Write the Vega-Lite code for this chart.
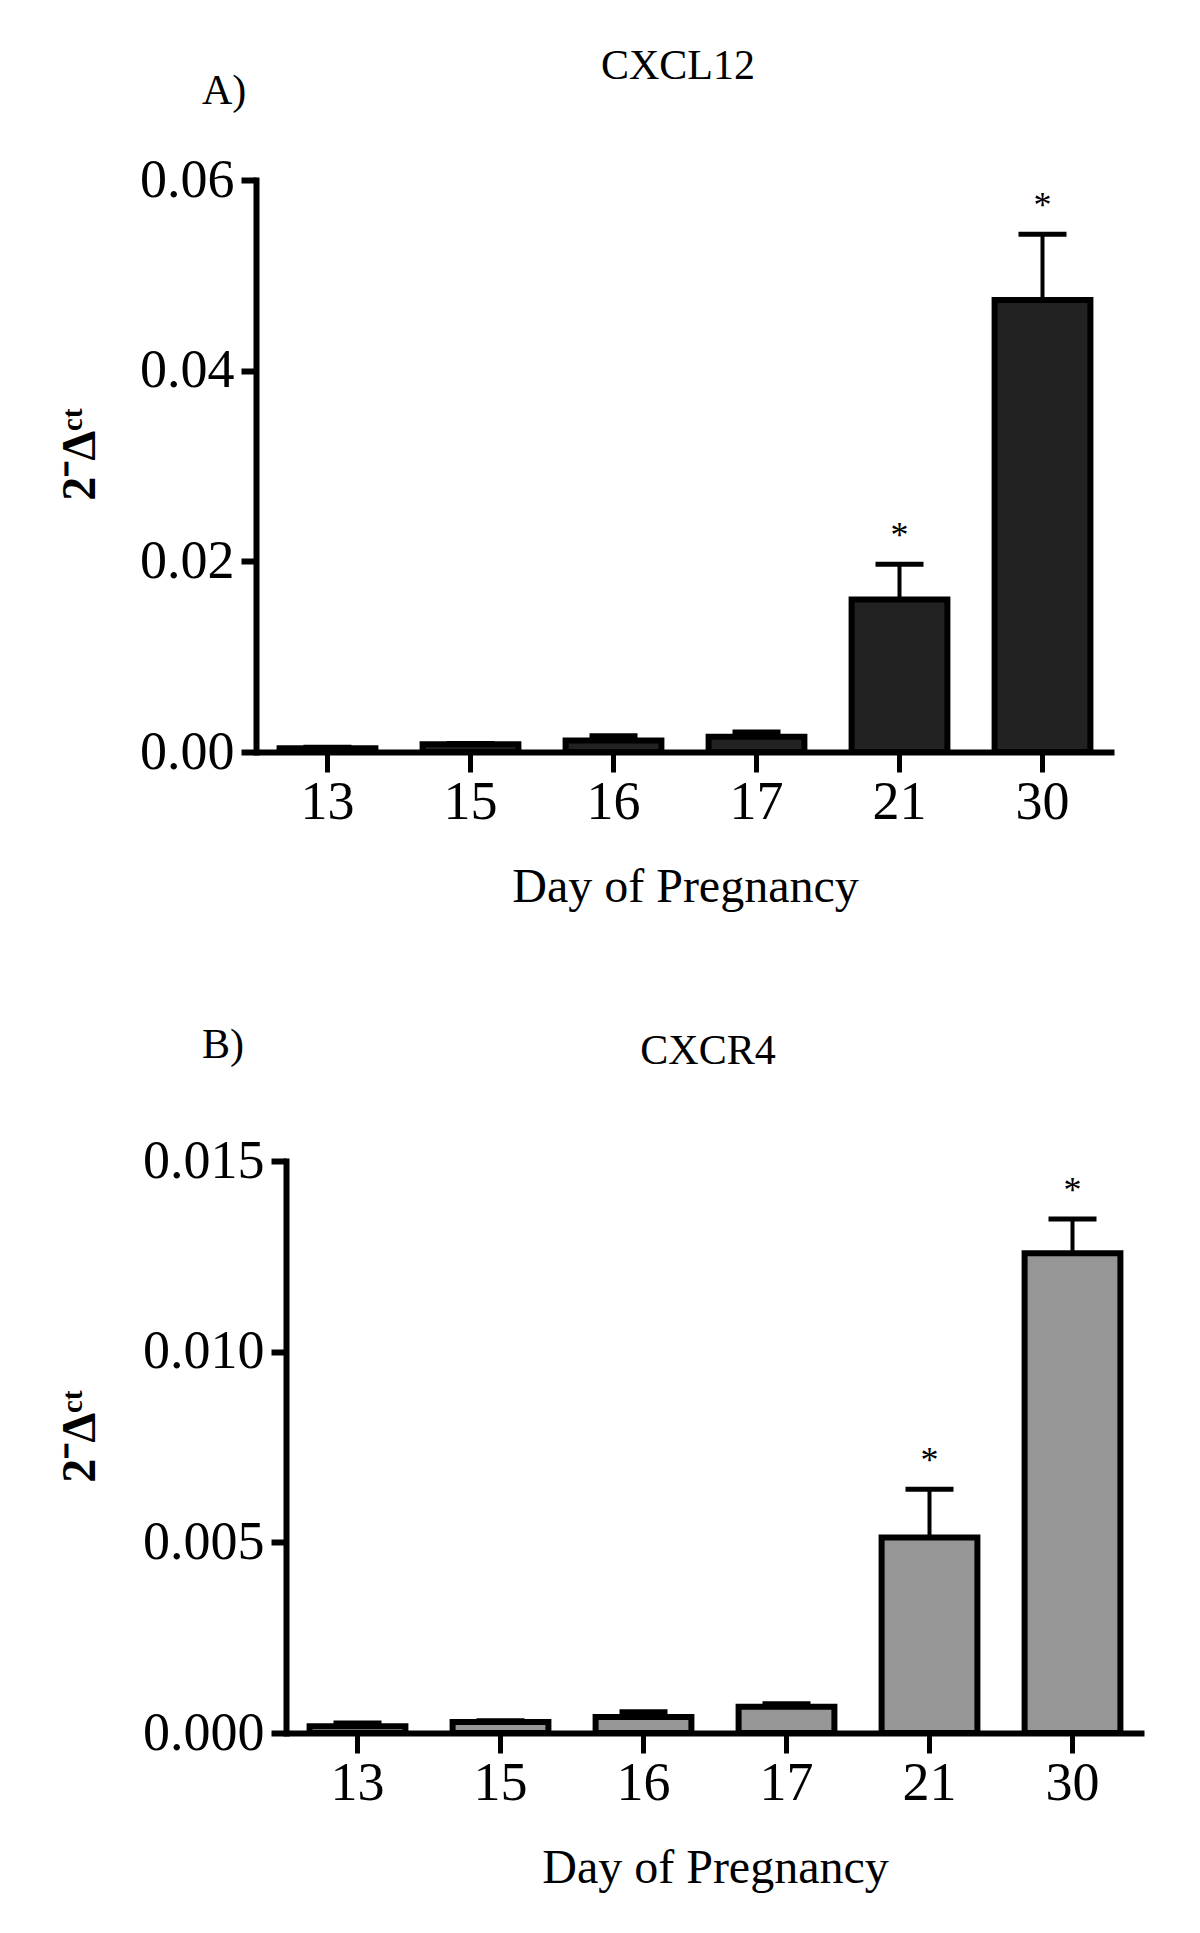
{
  "$schema": "https://vega.github.io/schema/vega-lite/v6.json",
  "padding": {"left": 49, "top": 45, "right": 5, "bottom": 5},
  "background": "white",
  "spacing": 113,
  "config": {
    "font": "Liberation Serif",
    "view": {"stroke": null},
    "title": {"font": "Liberation Serif", "fontSize": 42, "fontWeight": "normal", "color": "black"},
    "axis": {
      "domainColor": "black", "tickColor": "black", "labelColor": "black", "titleColor": "black",
      "labelFont": "Liberation Serif", "titleFont": "Liberation Serif", "grid": false
    },
    "axisY": {
      "domainWidth": 6, "tickWidth": 6, "tickSize": 15, "labelPadding": 7, "labelFontSize": 54,
      "titleFontSize": 48, "titleFontWeight": "bold", "titlePadding": 35, "domainCap": "square"
    },
    "axisX": {
      "domainWidth": 6, "tickWidth": 5, "tickSize": 20, "labelPadding": 3, "labelFontSize": 54,
      "labelAngle": 0, "titleFontSize": 48, "titleFontWeight": "normal", "titlePadding": 34
    }
  },
  "vconcat": [
    {
      "title": {"text": "A)", "anchor": "start", "frame": "group", "dx": 150, "dy": 68, "offset": 0, "fontSize": 42},
      "spacing": 0,
      "hconcat": [
        {"width": 1, "height": 1, "data": {"values": [{"s": 0}]}, "mark": {"type": "point", "opacity": 0}},
        {
          "width": 858,
          "height": 572,
          "title": {"text": "CXCL12", "anchor": "middle", "frame": "group", "offset": 65, "dx": -7},
          "data": {"values": [
            {"day": "13", "mean": 0.0004, "upper": 0.0005, "sig": ""},
            {"day": "15", "mean": 0.0008, "upper": 0.0009, "sig": ""},
            {"day": "16", "mean": 0.0012, "upper": 0.0017, "sig": ""},
            {"day": "17", "mean": 0.0016, "upper": 0.0021, "sig": ""},
            {"day": "21", "mean": 0.0160, "upper": 0.0197, "sig": "*"},
            {"day": "30", "mean": 0.0474, "upper": 0.0543, "sig": "*"}
          ]},
          "encoding": {
            "x": {"field": "day", "type": "ordinal", "title": "Day of Pregnancy",
                  "scale": {"paddingInner": 0.33, "paddingOuter": 0.165}}
          },
          "layer": [
            {
              "mark": {"type": "bar", "fill": "#222222", "stroke": "black", "strokeWidth": 6},
              "encoding": {"y": {"field": "mean", "type": "quantitative", "title": "2⁻Δᶜᵗ",
                "scale": {"domain": [0, 0.06], "nice": false},
                "axis": {"values": [0, 0.02, 0.04, 0.06], "format": ".2f", "titleY": 274}}}
            },
            {
              "mark": {"type": "rule", "color": "black", "strokeWidth": 4},
              "encoding": {"y": {"field": "mean", "type": "quantitative", "title": "2⁻Δᶜᵗ"}, "y2": {"field": "upper"}}
            },
            {
              "mark": {"type": "tick", "color": "black", "thickness": 5, "size": 48, "opacity": 1},
              "encoding": {"y": {"field": "upper", "type": "quantitative", "title": "2⁻Δᶜᵗ"}}
            },
            {
              "mark": {"type": "text", "fontSize": 36, "baseline": "alphabetic", "dy": -17, "color": "black"},
              "encoding": {"y": {"field": "upper", "type": "quantitative", "title": "2⁻Δᶜᵗ"}, "text": {"field": "sig"}}
            }
          ]
        }
      ]
    },
    {
      "title": {"text": "B)", "anchor": "start", "frame": "group", "dx": 150, "dy": 37, "offset": 0, "fontSize": 42},
      "spacing": 0,
      "hconcat": [
        {"width": 1, "height": 1, "data": {"values": [{"s": 0}]}, "mark": {"type": "point", "opacity": 0}},
        {
          "width": 858,
          "height": 572,
          "title": {"text": "CXCR4", "anchor": "middle", "frame": "group", "offset": 61, "dx": -7},
          "data": {"values": [
            {"day": "13", "mean": 0.00018, "upper": 0.00026, "sig": ""},
            {"day": "15", "mean": 0.00029, "upper": 0.00032, "sig": ""},
            {"day": "16", "mean": 0.00042, "upper": 0.00056, "sig": ""},
            {"day": "17", "mean": 0.00069, "upper": 0.00077, "sig": ""},
            {"day": "21", "mean": 0.00513, "upper": 0.00639, "sig": "*"},
            {"day": "30", "mean": 0.01258, "upper": 0.01348, "sig": "*"}
          ]},
          "encoding": {
            "x": {"field": "day", "type": "ordinal", "title": "Day of Pregnancy",
                  "scale": {"paddingInner": 0.33, "paddingOuter": 0.165}}
          },
          "layer": [
            {
              "mark": {"type": "bar", "fill": "#969696", "stroke": "black", "strokeWidth": 6},
              "encoding": {"y": {"field": "mean", "type": "quantitative", "title": "2⁻Δᶜᵗ",
                "scale": {"domain": [0, 0.015], "nice": false},
                "axis": {"values": [0, 0.005, 0.01, 0.015], "format": ".3f", "titlePadding": 38, "titleY": 275}}}
            },
            {
              "mark": {"type": "rule", "color": "black", "strokeWidth": 4},
              "encoding": {"y": {"field": "mean", "type": "quantitative", "title": "2⁻Δᶜᵗ"}, "y2": {"field": "upper"}}
            },
            {
              "mark": {"type": "tick", "color": "black", "thickness": 5, "size": 48, "opacity": 1},
              "encoding": {"y": {"field": "upper", "type": "quantitative", "title": "2⁻Δᶜᵗ"}}
            },
            {
              "mark": {"type": "text", "fontSize": 36, "baseline": "alphabetic", "dy": -17, "color": "black"},
              "encoding": {"y": {"field": "upper", "type": "quantitative", "title": "2⁻Δᶜᵗ"}, "text": {"field": "sig"}}
            }
          ]
        }
      ]
    }
  ]
}
